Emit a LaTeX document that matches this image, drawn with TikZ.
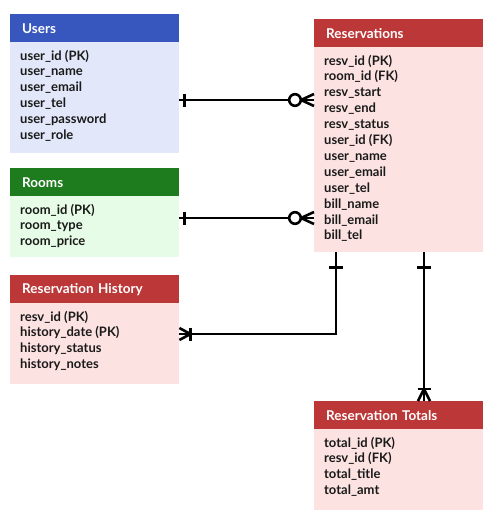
\documentclass[tikz,border=0pt]{standalone}
\usepackage{fontspec}
\setmainfont{Lato}
\usetikzlibrary{calc}
\definecolor{blueH}{HTML}{3757BF}
\definecolor{blueB}{HTML}{E2E8FA}
\definecolor{greenH}{HTML}{1E7B1E}
\definecolor{greenB}{HTML}{E6FCE6}
\definecolor{redH}{HTML}{BC3838}
\definecolor{redB}{HTML}{FDE2E2}
\definecolor{ink}{HTML}{1A1A1A}
\tikzset{
  hdr/.style={anchor=north west, minimum width=169pt, minimum height=28pt, inner ysep=0pt, inner xsep=12pt,
    text width=145pt, align=left, text=white, font=\bfseries\fontsize{13.5}{15}\selectfont},
  tbody/.style={anchor=north west, minimum width=169pt, inner sep=0pt},
  row/.style={anchor=base west, inner sep=0pt, text=ink, font=\bfseries\fontsize{13}{15}\selectfont},
  conn/.style={line width=2.6pt, draw=black},
}
\begin{document}
\begin{tikzpicture}[x=1pt,y=-1pt]
\useasboundingbox (0,0) rectangle (500,525);
% Users
\node[hdr, fill=blueH] (usersh) at (10,14) {Users};
\node[tbody, fill=blueB, minimum height=111pt] (usersb) at (10,42) {};
\foreach \t [count=\i] in {user\_id (PK),user\_name,user\_email,user\_tel,user\_password,user\_role}
  \node[row] (users-\i) at (20,{60+15.9*(\i-1)}) {\t};
% Rooms
\node[hdr, fill=greenH] (roomsh) at (10,168) {Rooms};
\node[tbody, fill=greenB, minimum height=61pt] (roomsb) at (10,196) {};
\foreach \t [count=\i] in {room\_id (PK),room\_type,room\_price}
  \node[row] (rooms-\i) at (20,{214+15.9*(\i-1)}) {\t};
% Reservation History
\node[hdr, fill=redH] (histh) at (10,275) {Reservation History};
\node[tbody, fill=redB, minimum height=81pt] (histb) at (10,303) {};
\foreach \t [count=\i] in {resv\_id (PK),history\_date (PK),history\_status,history\_notes}
  \node[row] (hist-\i) at (20,{321+15.9*(\i-1)}) {\t};
% Reservations
\node[hdr, fill=redH] (resvh) at (314,19) {Reservations};
\node[tbody, fill=redB, minimum height=205pt] (resvb) at (314,47) {};
\foreach \t [count=\i] in {resv\_id (PK),room\_id (FK),resv\_start,resv\_end,resv\_status,user\_id (FK),user\_name,user\_email,user\_tel,bill\_name,bill\_email,bill\_tel}
  \node[row] (resv-\i) at (324,{65+15.9*(\i-1)}) {\t};
% Reservation Totals
\node[hdr, fill=redH] (toth) at (314,401) {Reservation Totals};
\node[tbody, fill=redB, minimum height=81pt] (totb) at (314,429) {};
\foreach \t [count=\i] in {total\_id (PK),resv\_id (FK),total\_title,total\_amt}
  \node[row] (tot-\i) at (324,{447+15.9*(\i-1)}) {\t};

% connector coordinates
\coordinate (p1) at (usersb.east |- 0,100);
\coordinate (p2) at (resvb.west |- 0,100);
\coordinate (p3) at (roomsb.east |- 0,218);
\coordinate (p4) at (resvb.west |- 0,218);
\coordinate (p5) at (resvb.south -| 336,0);
\coordinate (p6) at (histb.east |- 0,334);
\coordinate (p7) at (resvb.south -| 424,0);
\coordinate (p8) at (toth.north -| 424,0);

% Users - Reservations
\draw[conn] (p1) -- (p2);
\draw[conn] ($(p1)+(5,-6.5)$) -- ++(0,13);
\draw[conn, fill=white] ($(p2)+(-19,0)$) circle[radius=5.8pt];
\draw[conn] ($(p2)+(-13,0)$) -- ($(p2)+(0,-6)$) ($(p2)+(-13,0)$) -- ($(p2)+(0,6)$);
% Rooms - Reservations
\draw[conn] (p3) -- (p4);
\draw[conn] ($(p3)+(5,-6.5)$) -- ++(0,13);
\draw[conn, fill=white] ($(p4)+(-19,0)$) circle[radius=5.8pt];
\draw[conn] ($(p4)+(-13,0)$) -- ($(p4)+(0,-6)$) ($(p4)+(-13,0)$) -- ($(p4)+(0,6)$);
% Reservations - History
\draw[conn] (p5) |- (p6);
\draw[conn] ($(p5)+(-7,15)$) -- ++(14,0);
\draw[conn] ($(p6)+(11,-6.5)$) -- ++(0,13);
\draw[conn] ($(p6)+(11,0)$) -- ($(p6)+(0,-6)$) ($(p6)+(11,0)$) -- ($(p6)+(0,6)$);
% Reservations - Totals
\draw[conn] (p7) -- (p8);
\draw[conn] ($(p7)+(-7,15)$) -- ++(14,0);
\draw[conn] ($(p8)+(-6.5,-12)$) -- ++(13,0);
\draw[conn] ($(p8)+(0,-12)$) -- ($(p8)+(-6,0)$) ($(p8)+(0,-12)$) -- ($(p8)+(6,0)$);
\end{tikzpicture}
\end{document}
